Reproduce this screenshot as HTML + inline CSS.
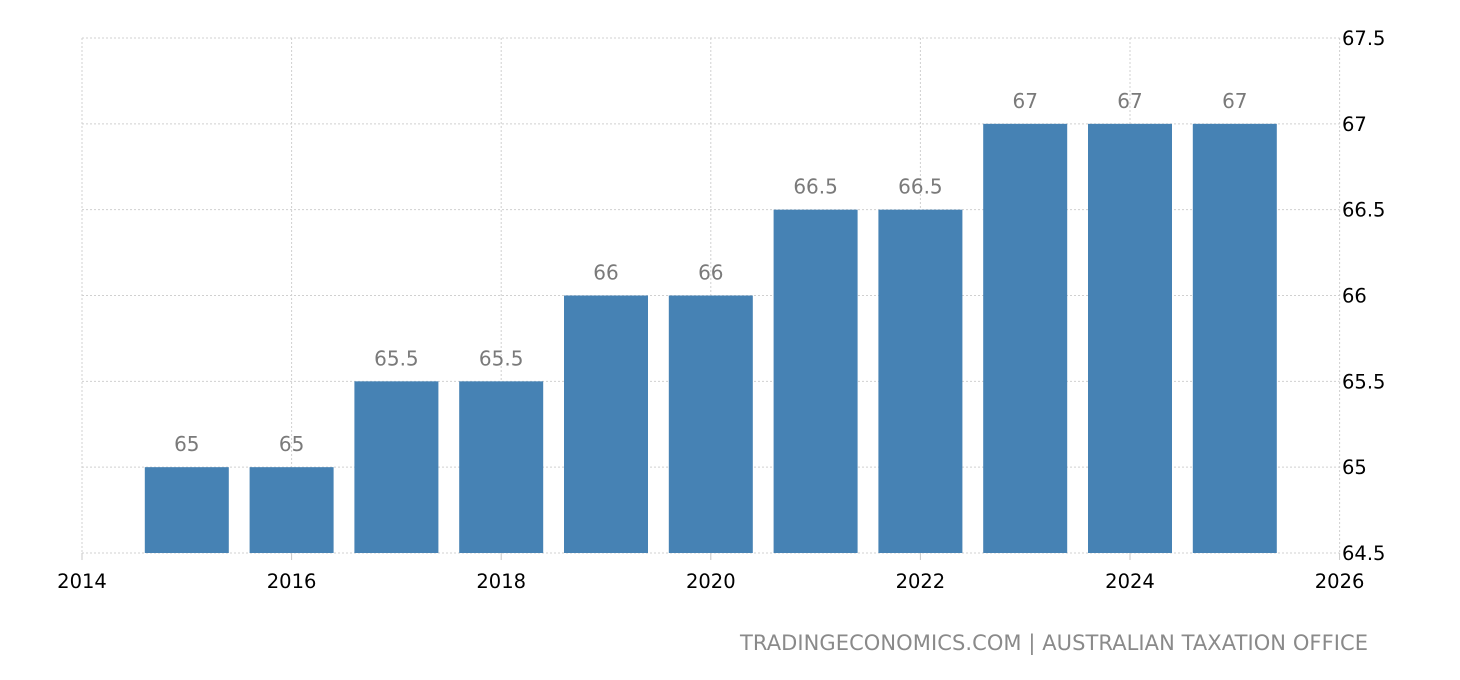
<!DOCTYPE html>
<html><head><meta charset="utf-8"><style>
html,body{margin:0;padding:0;background:#fff;}
svg{display:block;font-family:"DejaVu Sans","Liberation Sans",sans-serif;}
</style></head><body>
<svg id="chart" width="1460" height="680" xmlns="http://www.w3.org/2000/svg">
<g id="grid"></g>
<g id="bars"></g>
<g id="labels"></g>
<g id="xaxis"></g>
<g id="yaxis"></g>
<text x="1368" y="650" text-anchor="end" font-size="21" textLength="628" fill="#8a8a8a">TRADINGECONOMICS.COM | AUSTRALIAN TAXATION OFFICE</text>
</svg>
<script>
const years=[2015,2016,2017,2018,2019,2020,2021,2022,2023,2024,2025];
const values=[65,65,65.5,65.5,66,66,66.5,66.5,67,67,67];
const valueLabels=["65","65","65.5","65.5","66","66","66.5","66.5","67","67","67"];
const xTicks=[2014,2016,2018,2020,2022,2024,2026];
const yTicks=[64.5,65,65.5,66,66.5,67,67.5];
const yTickLabels=["64.5","65","65.5","66","66.5","67","67.5"];
const NS="http://www.w3.org/2000/svg";
const X0=82,X1=1339.6,Y0=553,Y1=38;
const xs=v=>X0+(v-2014)/(2026-2014)*(X1-X0);
const ys=v=>Y0-(v-64.5)/(67.5-64.5)*(Y0-Y1);
function mk(t,a,p){const e=document.createElementNS(NS,t);for(const k in a)e.setAttribute(k,a[k]);p.appendChild(e);return e;}
const grid=document.getElementById('grid'),bars=document.getElementById('bars'),labels=document.getElementById('labels'),xa=document.getElementById('xaxis'),ya=document.getElementById('yaxis');
yTicks.forEach((v,i)=>{
 const l=mk('line',{x1:X0,x2:X1,y1:ys(v),y2:ys(v),stroke:'#d0d0d0','stroke-width':1,'stroke-dasharray':'2,2'},grid);
 
 
 const t=mk('text',{x:1342,y:ys(v)+7,'font-size':19.5,fill:'#000'},ya);
 t.textContent=yTickLabels[i];
 
 
});
xTicks.forEach(v=>{
 const l=mk('line',{x1:xs(v),x2:xs(v),y1:Y1,y2:Y0,stroke:'#d0d0d0','stroke-width':1,'stroke-dasharray':'2,2'},grid);
 
 
 const tk=mk('line',{x1:xs(v),x2:xs(v),y1:Y0,y2:Y0+7,stroke:'#c8c8c8','stroke-width':1},xa);
 
 
 const t=mk('text',{x:xs(v),y:588,'font-size':19.5,fill:'#000','text-anchor':'middle'},xa);
 t.textContent=String(v);
 
 
});
const bw=84;
years.forEach((y,i)=>{
 const cx=xs(y),top=ys(values[i]);
 const r=mk('rect',{x:cx-bw/2,y:top,width:bw,height:Y0-top,fill:'#4682b4'},bars);
 
 
 const t=mk('text',{x:cx,y:top-16,'font-size':20,fill:'#7a7a7a','text-anchor':'middle'},labels);
 t.textContent=valueLabels[i];
 
 
});
</script>
</body></html>
